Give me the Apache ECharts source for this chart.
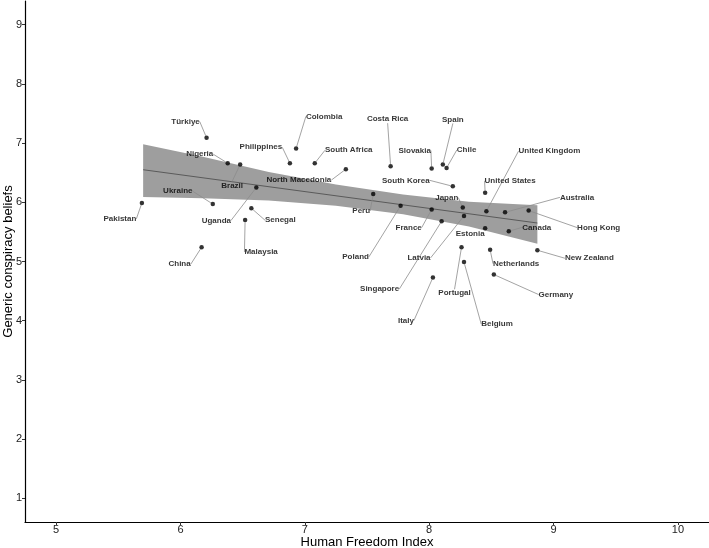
<!DOCTYPE html>
<html>
<head>
<meta charset="utf-8">
<script src="https://cdn.jsdelivr.net/npm/echarts@6/dist/echarts.min.js"></script>
<style>
  html, body { margin: 0; padding: 0; background: #fff; }
  #chart { width: 709px; height: 548px; }
</style>
</head>
<body>
<div id="chart"></div>
<script>
// country data
const countries = [
  "Pakistan", "Türkiye", "Nigeria", "Brazil", "Philippines", "Colombia",
  "South Africa", "North Macedonia", "Uganda", "Ukraine", "Senegal", "Malaysia",
  "China", "Peru", "Costa Rica", "Slovakia", "Spain", "Chile", "South Korea",
  "United States", "Japan", "United Kingdom", "Australia", "Hong Kong", "Poland",
  "France", "Singapore", "Latvia", "Estonia", "Canada", "New Zealand",
  "Netherlands", "Germany", "Portugal", "Belgium", "Italy"
];
const freedom = [
  5.69, 6.21, 6.38, 6.48, 6.88, 6.93,
  7.08, 7.33, 6.61, 6.26, 6.57, 6.52,
  6.17, 7.55, 7.69, 8.02, 8.11, 8.14, 8.19,
  8.45, 8.27, 8.46, 8.61, 8.80, 7.77,
  8.02, 8.10, 8.28, 8.45, 8.64, 8.87,
  8.49, 8.52, 8.26, 8.28, 8.03
];
const beliefs = [
  5.99, 7.09, 6.66, 6.64, 6.66, 6.91,
  6.66, 6.56, 6.25, 5.97, 5.90, 5.70,
  5.24, 6.14, 6.61, 6.57, 6.64, 6.58, 6.27,
  6.16, 5.91, 5.85, 5.83, 5.86, 5.94,
  5.88, 5.68, 5.77, 5.56, 5.51, 5.19,
  5.20, 4.78, 5.24, 4.99, 4.73
];

// linear fit and its confidence band
const fitX = [5.70, 8.87];
const fitY = [6.55, 5.65];
const bandX = [5.70, 6.18, 6.71, 7.25, 7.79, 8.32, 8.87];
const bandUpper = [6.98, 6.77, 6.51, 6.30, 6.13, 6.01, 5.95];
const bandLower = [6.09, 6.07, 6.03, 5.94, 5.80, 5.59, 5.30];

const xTicks = [5, 6, 7, 8, 9, 10];
const yTicks = [1, 2, 3, 4, 5, 6, 7, 8, 9];

// label placement (pixel offsets of label centre from its point)
const labelOffsets = {
  "Pakistan": [-22, 16], "Türkiye": [-21, -16], "Nigeria": [-28, -9],
  "Brazil": [-8, 21], "Philippines": [-29, -16], "Colombia": [28, -32],
  "South Africa": [34, -13], "North Macedonia": [-47, 11], "Uganda": [-40, 33],
  "Ukraine": [-35, -13], "Senegal": [29, 12], "Malaysia": [16, 32],
  "China": [-22, 17], "Peru": [-12, 17], "Costa Rica": [-3, -47],
  "Slovakia": [-17, -18], "Spain": [10, -45], "Chile": [20, -18],
  "South Korea": [-47, -6], "United States": [25, -12], "Japan": [-16, -10],
  "United Kingdom": [63, -60], "Australia": [72, -15], "Hong Kong": [70, 17],
  "Poland": [-45, 51], "France": [-23, 18], "Singapore": [-62, 68],
  "Latvia": [-45, 42], "Estonia": [-15, 5], "Canada": [28, -4],
  "New Zealand": [52, 8], "Netherlands": [26, 14], "Germany": [62, 20],
  "Portugal": [-7, 46], "Belgium": [33, 62], "Italy": [-27, 43]
};

const font = 'Arial, "Liberation Sans", sans-serif';

const points = countries.map((name, i) => {
  const item = { name: name, value: [freedom[i], beliefs[i]] };
  if (name === "Estonia") item.labelLine = { show: false };
  return item;
});

const bandData = bandX.map((x, i) => [x, bandLower[i], bandUpper[i]]);

const chart = echarts.init(document.getElementById("chart"));
chart.setOption({
  animation: false,
  grid: { left: 25, right: 0, top: 1, bottom: 26, containLabel: false, outerBoundsMode: "none" },
  xAxis: {
    type: "value",
    min: 4.75,
    max: 10.25,
    name: "Human Freedom Index",
    nameLocation: "middle",
    nameGap: 14,
    nameMoveOverlap: false,
    nameTextStyle: { fontFamily: font, fontSize: 13, color: "#000" },
    axisLine: { lineStyle: { color: "#000", width: 1.2 } },
    axisTick: { show: true, length: 3, customValues: xTicks, lineStyle: { color: "#333" } },
    axisLabel: { customValues: xTicks, margin: 2, fontFamily: font, fontSize: 11, color: "#222" },
    splitLine: { show: false }
  },
  yAxis: {
    type: "value",
    min: 0.6,
    max: 9.4,
    name: "Generic conspiracy beliefs",
    nameLocation: "middle",
    nameGap: 10,
    nameMoveOverlap: false,
    nameTextStyle: { fontFamily: font, fontSize: 13, color: "#000" },
    axisLine: { show: true, lineStyle: { color: "#000", width: 1.2 } },
    axisTick: { show: true, length: 3, customValues: yTicks, lineStyle: { color: "#333" } },
    axisLabel: { customValues: yTicks, margin: 3, fontFamily: font, fontSize: 11, color: "#222" },
    splitLine: { show: false }
  },
  series: [
    {
      // confidence band as one polygon: upper edge left->right, lower edge back
      type: "custom",
      data: bandData,
      silent: true,
      z: 1,
      renderItem: function (params, api) {
        if (params.dataIndex !== 0) return;
        const upper = bandData.map(d => api.coord([d[0], d[2]]));
        const lower = bandData.map(d => api.coord([d[0], d[1]])).reverse();
        return {
          type: "polygon",
          shape: { points: upper.concat(lower) },
          style: { fill: "#9e9e9e" }
        };
      }
    },
    {
      type: "line",
      data: fitX.map((x, i) => [x, fitY[i]]),
      symbol: "none",
      lineStyle: { color: "#5a5a5a", width: 1 },
      silent: true,
      z: 2
    },
    {
      type: "scatter",
      data: points,
      symbolSize: 4.5,
      itemStyle: { color: "#000" },
      label: {
        show: true,
        position: "inside",
        formatter: "{b}",
        fontFamily: font,
        fontSize: 8,
        fontWeight: "bold",
        color: "#000"
      },
      labelLine: { show: true, lineStyle: { color: "#8c8c8c", width: 0.8 } },
      labelLayout: function (params) {
        const off = labelOffsets[countries[params.dataIndex]] || [0, 0];
        return { dx: off[0], dy: off[1] };
      },
      z: 3
    }
  ]
});
</script>
</body>
</html>
